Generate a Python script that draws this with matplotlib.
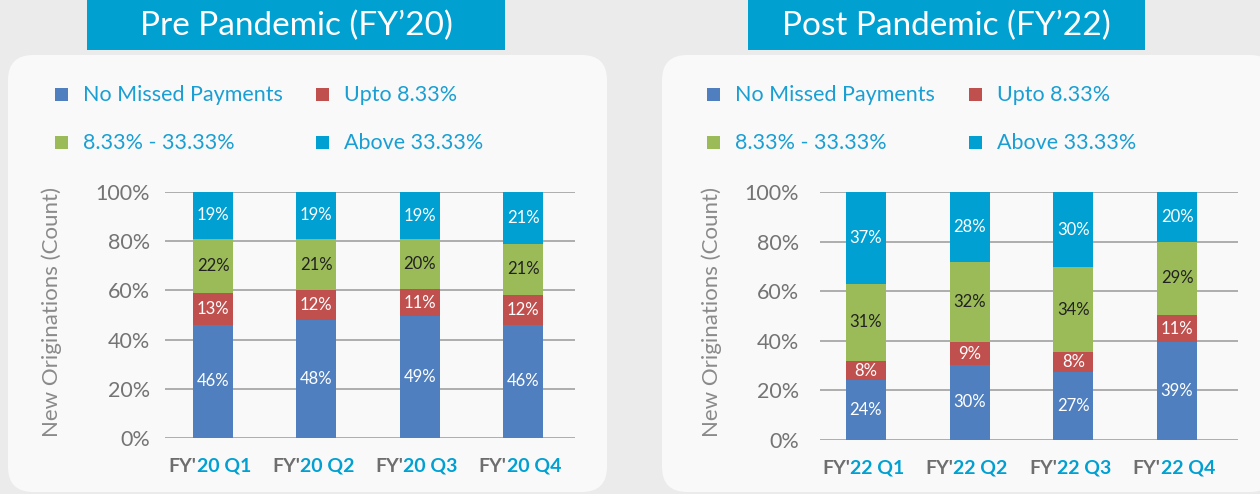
import matplotlib
matplotlib.use("Agg")
import matplotlib.pyplot as plt
import numpy as np
from matplotlib.patches import FancyBboxPatch, Rectangle

# ---------------- data ----------------
series_names = ["No Missed Payments", "Upto 8.33%", "8.33% - 33.33%", "Above 33.33%"]
series_colors = ["#4F7FBE", "#C0504D", "#9BBB59", "#00A0D2"]
label_colors = ["white", "white", "#222222", "white"]

pre_title = "Pre Pandemic (FY’20)"
post_title = "Post Pandemic (FY’22)"
pre_quarters = ["20 Q1", "20 Q2", "20 Q3", "20 Q4"]
post_quarters = ["22 Q1", "22 Q2", "22 Q3", "22 Q4"]

pre_no_missed = [46, 48, 49, 46]
pre_upto = [13, 12, 11, 12]
pre_mid = [22, 21, 20, 21]
pre_above = [19, 19, 19, 21]

post_no_missed = [24, 30, 27, 39]
post_upto = [8, 9, 8, 11]
post_mid = [31, 32, 34, 29]
post_above = [37, 28, 30, 20]

y_ticks = [0, 20, 40, 60, 80, 100]
y_label = "New Originations (Count)"

# ---------------- figure ----------------
W, H = 1260, 494
fig = plt.figure(figsize=(W / 100, H / 100), dpi=100)
fig.patch.set_facecolor("#ebebeb")

FONT = "Lato"
GRAY = "#747474"
CYAN = "#00A0D2"

def px(x, y):
    return x / W, 1 - y / H

# background panels
for (x0, x1) in [(8, 607), (662, 1275)]:
    bx, by = px(x0, 492)
    bw = (x1 - x0) / W
    bh = (492 - 55) / H
    patch = FancyBboxPatch((bx, by), bw, bh,
                           boxstyle="round,pad=0,rounding_size=0.02",
                           transform=fig.transFigure, facecolor="#f9f9f9",
                           edgecolor="none", mutation_aspect=W / H, zorder=0)
    fig.add_artist(patch)

# title boxes
for (x0, x1, title) in [(87, 505, pre_title), (748, 1145, post_title)]:
    bx, by = px(x0, 50)
    fig.add_artist(Rectangle((bx, by), (x1 - x0) / W, 50 / H,
                             transform=fig.transFigure, facecolor="#00A0D1",
                             edgecolor="none", zorder=1))
    fig.text(((x0 + x1) / 2) / W, 1 - 26 / H, title, ha="center", va="center",
             color="white", fontsize=24, family=FONT, zorder=2)

# legends
def draw_legend(xm1, xm2):
    positions = [(xm1, 95), (xm2, 95), (xm1, 143), (xm2, 143)]
    for (xm, ym), name, col in zip(positions, series_names, series_colors):
        s = 13
        bx, by = px(xm, ym + s / 2)
        fig.add_artist(Rectangle((bx, by), s / W, s / H, transform=fig.transFigure,
                                 facecolor=col, edgecolor="none", zorder=3))
        fig.text((xm + s + 15) / W, 1 - ym / H, name, ha="left", va="center",
                 color="#1A9FD4", fontsize=15.5, family=FONT, zorder=3)

draw_legend(55, 316)
draw_legend(707, 969)

# axes
def make_chart(left_px, right_px, zero_px, top_px, centers_px, quarters, data, ylab_x, pad):
    spacing = (centers_px[-1] - centers_px[0]) / 3
    ax = fig.add_axes([left_px / W, 1 - zero_px / H, (right_px - left_px) / W,
                       (zero_px - top_px) / H])
    ax.set_facecolor("none")
    xlo = (left_px - centers_px[0]) / spacing
    xhi = (right_px - centers_px[0]) / spacing
    ax.set_xlim(xlo, xhi)
    ax.set_ylim(0, 100)
    for t in y_ticks:
        ax.axhline(t, color="#a8a8a8", lw=1.3, zorder=0)
    arr = np.array(data, dtype=float)
    totals = arr.sum(axis=0)
    norm = arr / totals * 100
    x = np.arange(len(quarters))
    bottom = np.zeros(len(quarters))
    bw = 40 / spacing
    for i in range(len(series_names)):
        bars = ax.bar(x, norm[i], bw, bottom=bottom, color=series_colors[i],
                      edgecolor="none", zorder=2)
        ax.bar_label(bars, labels=[f"{int(v)}%" for v in arr[i]], label_type="center",
                     color=label_colors[i], fontsize=12, family=FONT, zorder=3)
        bottom += norm[i]
    for s in ax.spines.values():
        s.set_visible(False)
    ax.set_yticks(y_ticks)
    ax.set_yticklabels([f"{t}%" for t in y_ticks], fontsize=15.5, color=GRAY,
                       family=FONT)
    ax.tick_params(axis="y", length=0, pad=pad)
    ax.set_xticks([])
    fig.text(ylab_x / W, 1 - 312 / H, y_label, rotation=90, ha="center", va="center",
             fontsize=16, color="#8a8a8a", family=FONT)
    # two-tone x tick labels
    pairs = []
    for i, q in enumerate(quarters):
        t1 = ax.annotate("FY'", xy=(i, 0), xycoords=("data", "axes fraction"),
                         xytext=(0, -28), textcoords="offset pixels", ha="left",
                         va="center", color="#6e6e6e", fontsize=14,
                         fontweight="bold", family=FONT)
        t2 = ax.annotate(q, xy=(1, 0.5), xycoords=t1, xytext=(0, 0),
                         textcoords="offset pixels", ha="left", va="center",
                         color=CYAN, fontsize=14, fontweight="bold", family=FONT)
        pairs.append((t1, t2))
    return ax, pairs

ax1, pairs1 = make_chart(165, 575, 438, 192, [213, 316, 420, 523], pre_quarters,
                         [pre_no_missed, pre_upto, pre_mid, pre_above], 52, 11)
ax2, pairs2 = make_chart(820, 1238, 440, 192, [866, 969, 1073, 1177], post_quarters,
                         [post_no_missed, post_upto, post_mid, post_above], 712, 15)

fig.canvas.draw()
r = fig.canvas.get_renderer()
for pairs in (pairs1, pairs2):
    for t1, t2 in pairs:
        w = t1.get_window_extent(r).width + t2.get_window_extent(r).width
        t1.xyann = (-w / 2 - 3, -28)

fig.savefig("out.png", dpi=100, facecolor=fig.get_facecolor())
